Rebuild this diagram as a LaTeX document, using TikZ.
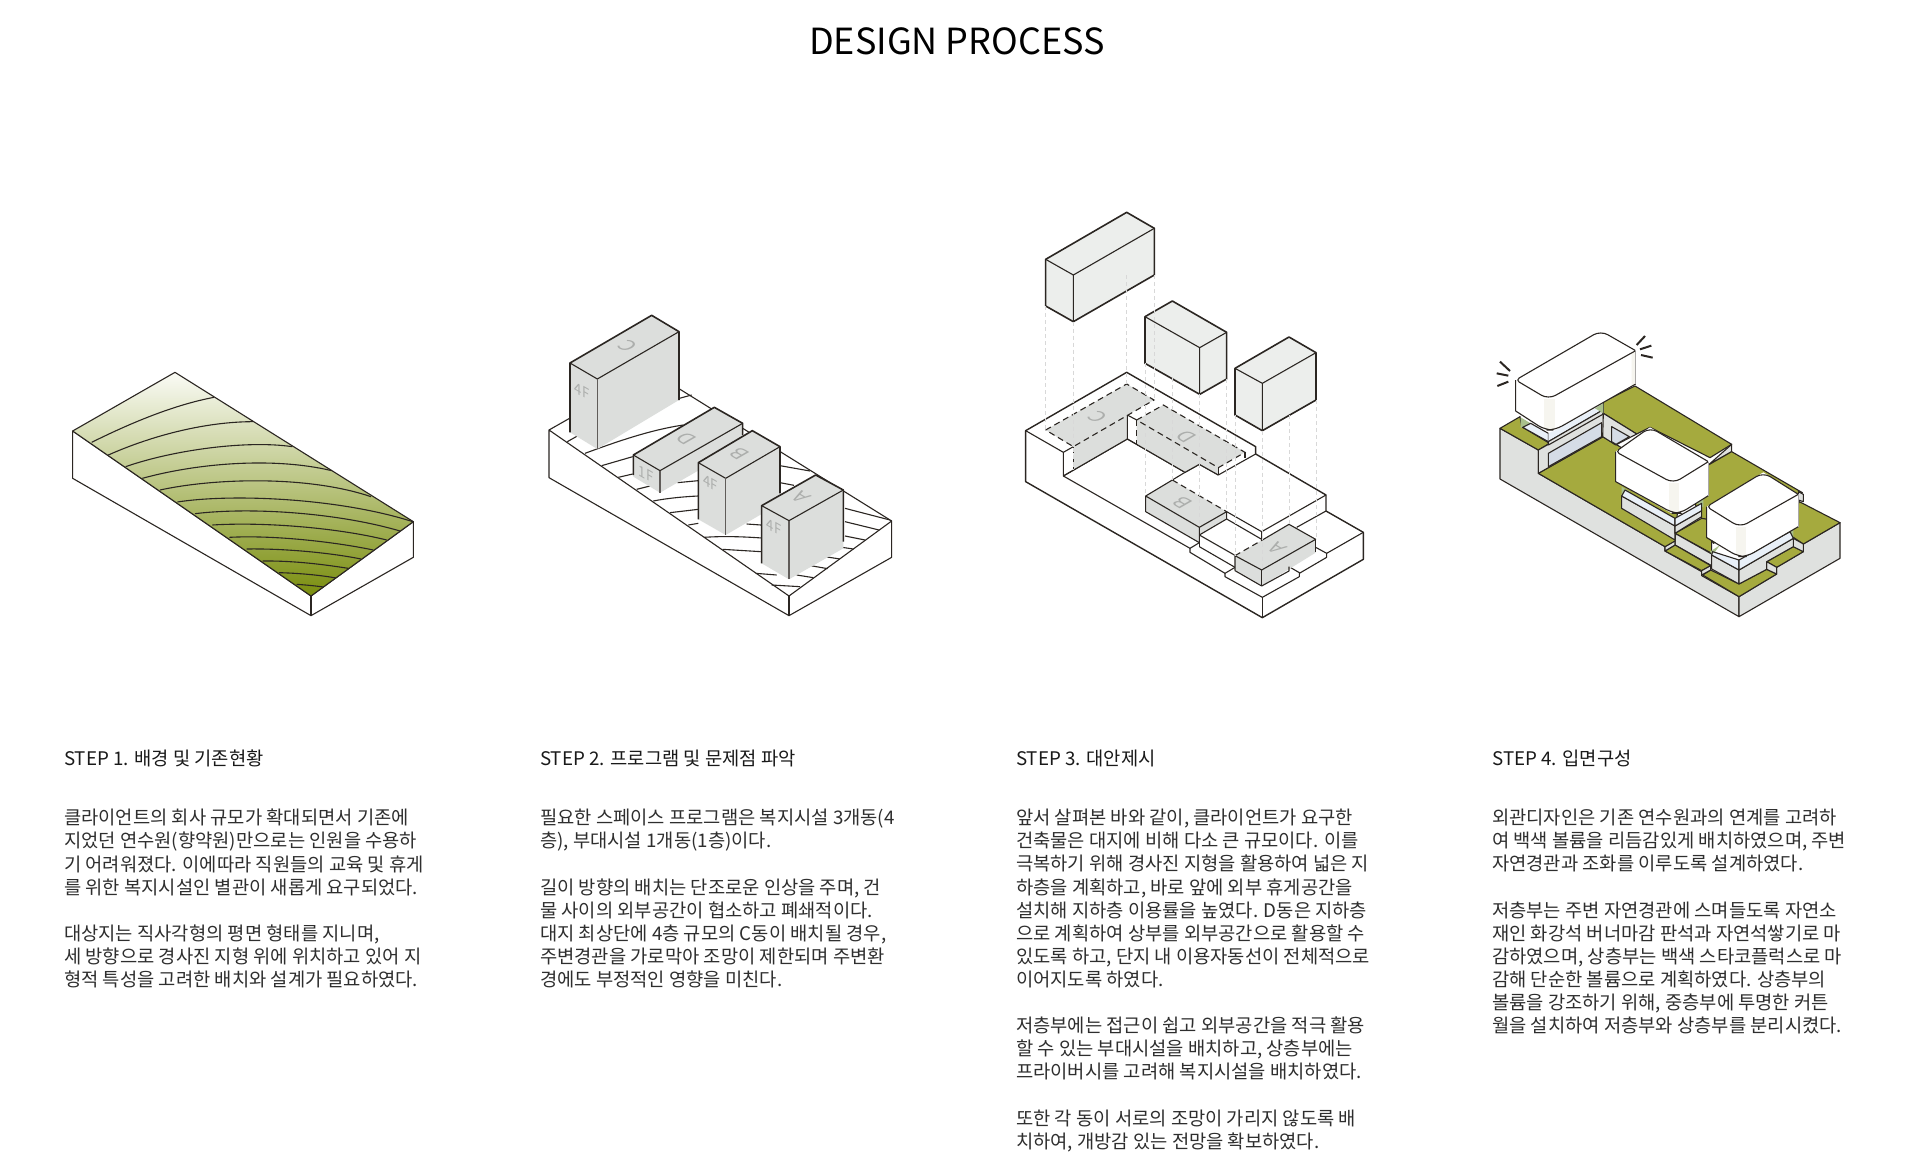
\documentclass[tikz,border=0pt]{standalone}
\usepackage{fontspec}
\setmainfont{Noto Sans CJK KR}
\definecolor{ink}{HTML}{2B2622}
\definecolor{lab}{HTML}{ACAEAC}
\definecolor{bgray}{HTML}{DCDEDC}
\definecolor{boxg}{HTML}{ECEEEC}
\definecolor{sideg}{HTML}{DFE1DF}
\definecolor{grn}{HTML}{A5AA3E}
\definecolor{glass}{HTML}{E9F0F8}
\definecolor{panel}{HTML}{D5DCE6}
\definecolor{patch}{HTML}{A9C08C}
\definecolor{stripe}{HTML}{F6F5EF}
\definecolor{proj}{HTML}{D8D8D8}
\definecolor{gradtop}{HTML}{FAFBF5}
\definecolor{gradmid}{HTML}{D6DDC0}
\definecolor{gradbot}{HTML}{7A8E0E}
\tikzset{
  ln/.style={draw=ink,line width=1.1pt,line join=round},
  hv/.style={draw=ink,line width=1.6pt,line join=round},
  dsh/.style={draw=ink,line width=1.1pt,dash pattern=on 6pt off 4pt},
  pj/.style={draw=proj,line width=1pt,dash pattern=on 4pt off 3pt},
  topl/.style={text=lab,inner sep=0pt,font=\fontsize{20}{20}\selectfont,cm={-.866,.5,-.866,-.5,(0,0)}},
  sidel/.style={text=lab,inner sep=0pt,font=\fontsize{15}{15}\selectfont,cm={.866,-.5,0,1,(0,0)}},
  ttl/.style={inner sep=0pt,font=\fontsize{36}{40}\selectfont,text=black},
  hdl/.style={inner sep=0pt,anchor=west,font=\fontsize{18.75}{23.1}\selectfont,text=black!90},
  bdy/.style={inner sep=0pt,anchor=north west,align=left,font=\fontsize{18.75}{23.1}\selectfont,text=black!82},
  zn/.style={shift={(420,330)}},
  ze/.style={shift={(30,30)}},
  zoomd/.style={x=0.33333pt,y=-0.33333pt}
}
\begin{document}
\begin{tikzpicture}[x=1pt,y=-1pt]
\useasboundingbox (0,0) rectangle (1919,1172);
\fill[white] (0,0) rectangle (1919,1172);
\node[ttl] (title) at (957,41) {DESIGN PROCESS};

% ---------- STEP 1
\begin{scope}[shift={(40,350)},zoomd]
\draw[ln,fill=white] (98,243)--(98,385)--(813,797)--(1120,622)--(1120,515)--(813,738)--cycle;
\draw[ln] (813,738)--(813,797);
\shade[top color=gradtop,middle color=gradmid,bottom color=gradbot] (405,67)--(98,243)--(813,738)--(1120,515)--cycle;
\draw[ln] (155,277) .. controls (270,220) and (400,165) .. (522,142);
\draw[ln] (205,315) .. controls (340,255) and (500,215) .. (640,215);
\draw[ln] (257,350) .. controls (400,300) and (620,270) .. (757,290);
\draw[ln] (307,385) .. controls (470,340) and (700,320) .. (875,362);
\draw[ln] (360,420) .. controls (520,385) and (800,375) .. (993,440);
\draw[ln] (412,456) .. controls (580,430) and (900,445) .. (1118,515);
\draw[ln] (465,491) .. controls (640,470) and (900,490) .. (1080,543);
\draw[ln] (517,525) .. controls (680,515) and (900,535) .. (1040,570);
\draw[ln] (568,562) .. controls (700,555) and (880,575) .. (1000,600);
\draw[ln] (620,597) .. controls (740,595) and (880,610) .. (963,627);
\draw[ln] (668,633) .. controls (770,632) and (860,645) .. (925,655);
\draw[ln] (717,668) .. controls (790,670) and (850,677) .. (888,684);
\draw[ln] (770,703) .. controls (800,705) and (830,708) .. (850,711);
\draw[ln] (405,67)--(98,243)--(813,738)--(1120,515)--cycle;
\end{scope}

% ---------- STEP 2
\begin{scope}[shift={(530,300)},zoomd]
\draw[ln,fill=white] (57,390)--(57,533)--(777,947)--(1085,772)--(1085,663)--(777,888)--cycle;
\draw[ln] (777,888)--(777,947);
\draw[ln] (57,390)--(365,215)--(1085,663);
\draw[ln] (112,425)--(142,408) (215,497)--(308,470) (265,532)--(308,522) (320,568)--(360,558) (442,548)--(505,542) (448,295)--(485,285) (420,638)--(505,628) (475,675)--(505,670) (578,748)--(693,755) (650,672)--(693,675) (677,820)--(740,825) (725,855)--(810,860) (750,497)--(840,513) (750,548)--(792,556) (945,625)--(1080,660) (945,665)--(1047,690) (945,708)--(1005,720) (922,740)--(970,747) (885,770)--(930,777) (842,797)--(893,806) (800,825)--(850,833);
\draw[ln] (165,460) .. controls (260,425) and (360,390) .. (460,375);
\draw[ln] (370,603) .. controls (410,595) and (460,590) .. (505,588);
\draw[ln] (522,712) .. controls (580,708) and (640,710) .. (695,714);
% C
\fill[bgray] (120,189)--(365,46)--(447,95)--(447,300)--(202,447)--(120,397)--cycle;
\draw[hv] (120,397)--(120,189)--(365,46)--(447,95)--(447,300);
\draw[ln] (120,189)--(202,237)--(447,95);
\draw[draw=ink!75,line width=1.6pt] (202,237)--(202,447);
\node[topl] (cC) at (292,138) {C};
\node[sidel] (fC) at (156,272) {4F};
% D
\fill[bgray] (310,465)--(553,322)--(638,370)--(638,435)--(390,578)--(310,530)--cycle;
\draw[hv] (310,525)--(310,465)--(553,322)--(638,370)--(638,405);
\draw[ln] (310,465)--(390,512)--(638,370);
\draw[draw=ink!75,line width=1.4pt] (390,512)--(390,580);
\node[topl] (cD) at (470,415) {D};
\node[sidel] (fD) at (348,522) {1F};
% B
\fill[bgray] (505,488)--(667,392)--(750,440)--(750,610)--(587,705)--(505,658)--cycle;
\draw[hv] (505,658)--(505,488)--(667,392)--(750,440)--(750,580);
\draw[ln] (505,488)--(587,535)--(750,440);
\draw[draw=ink!75,line width=1.4pt] (587,535)--(587,705);
\node[topl] (cB) at (628,462) {B};
\node[sidel] (fB) at (542,548) {4F};
% A
\fill[bgray] (695,617)--(857,525)--(940,570)--(940,745)--(777,838)--(695,790)--cycle;
\draw[hv] (695,790)--(695,617)--(857,525)--(940,570)--(940,725);
\draw[ln] (695,617)--(777,662)--(940,570);
\draw[draw=ink!75,line width=1.4pt] (777,662)--(777,838);
\node[topl] (cA) at (812,592) {A};
\node[sidel] (fA) at (732,680) {4F};
\end{scope}

% ---------- STEP 3
\begin{scope}[shift={(1010,200)},zoomd]
% floating boxes
\fill[boxg] (107,178)--(350,37)--(433,85)--(433,225)--(190,365)--(107,318)--cycle;
\draw[hv] (107,178)--(350,37)--(433,85)--(433,225)--(190,365)--(107,318)--cycle;
\draw[ln] (107,178)--(190,225)--(433,85) (190,225)--(190,365);
\fill[boxg] (405,350)--(487,303)--(650,397)--(650,537)--(569,583)--(405,490)--cycle;
\draw[hv] (405,350)--(487,303)--(650,397)--(650,537)--(569,583)--(405,490)--cycle;
\draw[ln] (405,350)--(569,443)--(650,397) (569,443)--(569,583);
\fill[boxg] (675,505)--(837,411)--(918,458)--(918,600)--(757,692)--(675,645)--cycle;
\draw[hv] (675,505)--(837,411)--(918,458)--(918,600)--(757,692)--(675,645)--cycle;
\draw[ln] (675,505)--(757,550)--(918,458) (757,550)--(757,692);
% base
\draw[ln,line width=1.4pt] (47,692)--(350,517)--(737,740)--(737,762)--(948,885)--(948,933)--(1060,997)--(1060,1078)--(757,1253)--(47,845)--cycle;
\draw[ln] (757,1192)--(757,1253);
\draw[ln] (47,692)--(160,757)--(160,828)--(540,1045)--(540,1057)--(645,1120)--(645,1130)--(757,1192)--(868,1130)--(868,1118)--(837,1100);
\draw[ln] (868,1120)--(950,1072)--(950,1060)--(917,1042);
\draw[ln] (950,1060)--(1060,997);
\draw[ln] (860,982)--(948,933);
\draw[ln] (540,1045)--(568,1028);
\draw[ln] (645,1120)--(675,1102);
\draw[ln] (568,1005)--(673,1065);
\draw[ln] (568,1040)--(675,1102);
\draw[ln] (650,935)--(755,995)--(755,1018)--(650,957);
\draw[ln] (755,995)--(948,885);
\draw[ln] (160,757)--(190,740);
\draw[ln] (160,828)--(352,717)--(352,645)--(380,660);
\draw[ln] (352,717)--(525,817)--(568,793)--(625,825)--(737,762);
\draw[ln] (525,817)--(487,840);
\draw[ln] (625,803)--(625,825);
\draw[ln] (705,757)--(705,773);
% C footprint
\fill[bgray] (107,690)--(350,552)--(432,600)--(352,645)--(352,717)--(190,810)--(190,740)--cycle;
\draw[ln] (160,828)--(352,717)--(352,645);
\draw[dsh] (107,690)--(350,552)--(432,600)--(190,740)--cycle;
\draw[dsh] (190,740)--(190,810);
% D footprint
\fill[bgray] (380,660)--(460,615)--(705,757)--(625,803)--(625,825)--(568,793)--(525,817)--(380,733)--cycle;
\draw[ln] (352,717)--(525,817)--(568,793)--(625,825);
\draw[ln] (625,803)--(625,825);
\draw[dsh] (380,660)--(460,615)--(705,757)--(625,803)--cycle;
\draw[dsh] (380,660)--(380,733);
% B
\fill[bgray] (407,888)--(487,840)--(650,935)--(650,957)--(568,1005)--(568,1028)--(407,935)--cycle;
\draw[ln] (407,888)--(407,935)--(568,1028)--(568,982)--(407,888)--(487,840);
\draw[ln] (568,982)--(650,935)--(650,957)--(568,1005);
\draw[ln] (568,1005)--(568,1040);
\draw[dsh] (487,840)--(650,935);
% A
\fill[bgray] (675,1067)--(757,1020)--(837,973)--(917,1018)--(917,1058)--(755,1158)--(675,1112)--cycle;
\draw[ln] (675,1112)--(675,1067)--(755,1110)--(917,1018)--(837,973)--(757,1020);
\draw[ln] (675,1112)--(755,1158)--(837,1113)--(837,1100);
\draw[ln] (755,1110)--(755,1158);
\draw[ln] (917,1018)--(917,1055);
\draw[dsh] (675,1067)--(757,1020);
% projection lines
\draw[pj] (107,318)--(107,690) (190,365)--(190,810) (350,225)--(350,552) (433,225)--(433,600)
 (405,490)--(405,888) (487,535)--(487,840) (569,583)--(569,982) (650,537)--(650,935)
 (675,645)--(675,1067) (757,692)--(757,1110) (837,645)--(837,973) (918,600)--(918,1018);
\node[topl] (dC) at (264,651) {C};
\node[topl] (dD) at (530,709) {D};
\node[topl] (dB) at (518,908) {B};
\node[topl] (dA) at (800,1045) {A};
\end{scope}

% ---------- STEP 4
\begin{scope}[shift={(1480,310)},zoomd]
\tikzset{sd/.style={ln,fill=sideg},gr/.style={ln,fill=grn}}
% left and right side walls
\draw[sd] (60,355)--(175,420)--(175,490)--(555,710)--(555,723)--(665,785)--(665,797)--(777,860)--(777,920)--(60,507)--cycle;
\draw[sd,zn] (357,530)--(470,462)--(470,442)--(550,395)--(550,372)--(660,308)--(660,415)--(357,590)--cycle;
% back green
\draw[gr] (370,275)--(465,228)--(755,403)--(690,443)--(510,352)--(470,372)--(370,310)--cycle;
\draw[sd] (685,465)--(755,403)--(755,425)--(685,465)--cycle;
% mid green
\draw[gr] (685,465)--(755,425)--(967,548)--(700,700)--(642,575)--cycle;
\draw[sd] (955,545)--(970,553)--(970,575)--(955,570)--cycle;
% right green
\draw[gr,zn] (538,245)--(660,308)--(550,372)--(520,352)--(490,345)--cycle;
\draw[gr,zn] (440,425)--(520,380)--(550,395)--(470,442)--cycle;
\draw[gr,zn] (248,465)--(272,450)--(357,492)--(440,448)--(470,462)--(357,530)--cycle;
\draw[sd,zn] (440,425)--(470,442)--(470,462)--(440,448)--cycle;
\draw[sd,zn] (520,355)--(550,372)--(550,395)--(520,380)--cycle;
% centre terrace
\draw[gr,zn] (165,340)--(245,295)--(275,300)--(275,400)--cycle;
\draw[sd,zn] (165,340)--(275,402)--(275,437)--(165,375)--cycle;
\draw[gr,zn] (135,393)--(165,375)--(272,437)--(245,452)--cycle;
\draw[sd,zn] (135,380)--(165,362)--(165,375)--(135,393)--cycle;
\draw[sd,zn] (245,452)--(272,437)--(272,450)--(245,465)--cycle;
% top-left green
\draw[gr] (60,355)--(120,320)--(125,350)--(205,398)--(205,402)--(175,420)--cycle;
% big green
\draw[gr] (175,490)--(368,380)--(600,515)--(585,693)--(555,710)--cycle;
% wall under building 1
\draw[sd,ze] (145,390)--(340,280)--(340,350)--(145,460)--cycle;
\draw[ln,fill=panel,ze] (175,440)--(175,400)--(335,308)--(335,350)--cycle;
\draw[sd] (370,310)--(470,372)--(407,405)--(368,380)--cycle;
\draw[ln,fill=panel] (395,395)--(395,350)--(448,380)--(408,403)--cycle;
% stack building 1
\fill[patch,ze] (92,292)--(122,310)--(92,324)--cycle;
\draw[ln,fill=glass,ze] (98,322)--(122,310)--(175,340)--(175,365)--cycle;
\fill[glass,ze] (175,340)--(198,330)--(335,255)--(335,272)--(175,365)--cycle;
\draw[ln,ze] (175,365)--(335,272);
\draw[ln,fill=sideg,ze] (175,365)--(335,272)--(340,282)--(175,375)--cycle;
\fill[patch,ze] (315,265)--(340,250)--(340,280)--cycle;
% stack building 2
\fill[patch] (425,530)--(450,545)--(425,560)--cycle;
\fill[patch] (642,575)--(670,592)--(670,560)--cycle;
\draw[sd] (425,558)--(585,648)--(585,690)--(425,595)--cycle;
\draw[sd] (585,648)--(665,602)--(665,620)--(585,670)--cycle;
\draw[ln,fill=glass] (435,540)--(585,625)--(585,648)--(425,558)--cycle;
\draw[ln,fill=glass] (585,625)--(665,580)--(665,602)--(585,648)--cycle;
% stack building 3
\fill[patch,zn] (270,395)--(300,375)--(278,405)--cycle;
\fill[patch,zn] (498,345)--(520,325)--(520,352)--cycle;
\draw[sd,zn] (275,405)--(357,450)--(357,492)--(275,447)--cycle;
\draw[sd,zn] (357,450)--(520,355)--(520,380)--(440,425)--(440,448)--(357,492)--cycle;
\draw[ln,fill=glass,zn] (278,395)--(357,420)--(357,450)--(275,405)--cycle;
\draw[ln,fill=glass,zn] (357,420)--(510,335)--(520,355)--(357,450)--cycle;
% building 1
\fill[white] (107,210)--(107,305)--(195,360)--(225,360)--(467,222)--(467,122)--(362,62)--cycle;
\fill[stripe] (193,268)--(225,268)--(225,358)--(193,358)--cycle;
\fill[stripe] (455,130)--(467,122)--(467,222)--(455,230)--cycle;
\draw[ln] (107,210)--(107,303) [rounded corners=8pt] --(195,360)--(225,360)--(467,222);
\draw[draw=ink!40,line width=.8pt] (467,122)--(467,222);
\draw[ln,fill=white] (234.5,136) [rounded corners=4pt] --(107,210) [rounded corners=8pt] --(205,268) [rounded corners=1pt] --(467,122) [rounded corners=8pt] --(362,62) [sharp corners] --cycle;
% building 2
\fill[white] (407,425)--(407,515)--(575,610)--(600,610)--(685,557)--(685,455)--(510,352)--cycle;
\fill[stripe] (567,518)--(597,518)--(597,606)--(567,606)--cycle;
\draw[ln] (407,425)--(407,515) [rounded corners=8pt] --(580,610)--(600,610)--(685,557);
\draw[draw=ink!40,line width=.8pt] (685,455)--(685,557);
\draw[ln,fill=white] (458.5,388.5) [rounded corners=4pt] --(407,425) [rounded corners=8pt] --(580,520) [rounded corners=1pt] --(685,455) [rounded corners=8pt] --(510,352) [sharp corners] --cycle;
% building 3
\fill[white] (680,590)--(680,680)--(770,738)--(800,738)--(955,650)--(955,553)--(850,487)--cycle;
\fill[stripe] (767,650)--(797,650)--(797,735)--(767,735)--cycle;
\draw[ln] (680,590)--(680,683) [rounded corners=8pt] --(775,740)--(800,740)--(955,650);
\draw[draw=ink!40,line width=.8pt] (955,553)--(955,650);
\draw[ln,fill=white] (765,538.5) [rounded corners=4pt] --(680,590) [rounded corners=8pt] --(780,652) [rounded corners=1pt] --(955,553) [rounded corners=8pt] --(850,487) [sharp corners] --cycle;
% rays
\draw[ink,line width=2pt,ze] (440,75)--(465,48) (450,88)--(484,77) (453,105)--(488,113) (60,153)--(30,125) (55,167)--(20,160) (55,185)--(22,198);
\end{scope}

% ---------- Text
\node[hdl] (h1) at (64,758.5) {STEP 1. 배경 및 기존현황};
\node[hdl] (h2) at (540,758.5) {STEP 2. 프로그램 및 문제점 파악};
\node[hdl] (h3) at (1016,758.5) {STEP 3. 대안제시};
\node[hdl] (h4) at (1492,758.5) {STEP 4. 입면구성};
\node[bdy] (b1) at (64,809) {클라이언트의 회사 규모가 확대되면서 기존에\\지었던 연수원(향약원)만으로는 인원을 수용하\\기 어려워졌다. 이에따라 직원들의 교육 및 휴게\\를 위한 복지시설인 별관이 새롭게 요구되었다.\\[23.1pt]대상지는 직사각형의 평면 형태를 지니며,\\세 방향으로 경사진 지형 위에 위치하고 있어 지\\형적 특성을 고려한 배치와 설계가 필요하였다.};
\node[bdy] (b2) at (540,809) {필요한 스페이스 프로그램은 복지시설 3개동(4\\층), 부대시설 1개동(1층)이다.\\[23.1pt]길이 방향의 배치는 단조로운 인상을 주며, 건\\물 사이의 외부공간이 협소하고 폐쇄적이다.\\대지 최상단에 4층 규모의 C동이 배치될 경우,\\주변경관을 가로막아 조망이 제한되며 주변환\\경에도 부정적인 영향을 미친다.};
\node[bdy] (b3) at (1016,809) {앞서 살펴본 바와 같이, 클라이언트가 요구한\\건축물은 대지에 비해 다소 큰 규모이다. 이를\\극복하기 위해 경사진 지형을 활용하여 넓은 지\\하층을 계획하고, 바로 앞에 외부 휴게공간을\\설치해 지하층 이용률을 높였다. D동은 지하층\\으로 계획하여 상부를 외부공간으로 활용할 수\\있도록 하고, 단지 내 이용자동선이 전체적으로\\이어지도록 하였다.\\[23.1pt]저층부에는 접근이 쉽고 외부공간을 적극 활용\\할 수 있는 부대시설을 배치하고, 상층부에는\\프라이버시를 고려해 복지시설을 배치하였다.\\[23.1pt]또한 각 동이 서로의 조망이 가리지 않도록 배\\치하여, 개방감 있는 전망을 확보하였다.};
\node[bdy] (b4) at (1492,809) {외관디자인은 기존 연수원과의 연계를 고려하\\여 백색 볼륨을 리듬감있게 배치하였으며, 주변\\자연경관과 조화를 이루도록 설계하였다.\\[23.1pt]저층부는 주변 자연경관에 스며들도록 자연소\\재인 화강석 버너마감 판석과 자연석쌓기로 마\\감하였으며, 상층부는 백색 스타코플럭스로 마\\감해 단순한 볼륨으로 계획하였다. 상층부의\\볼륨을 강조하기 위해, 중층부에 투명한 커튼\\월을 설치하여 저층부와 상층부를 분리시켰다.};
\end{tikzpicture}
\end{document}
